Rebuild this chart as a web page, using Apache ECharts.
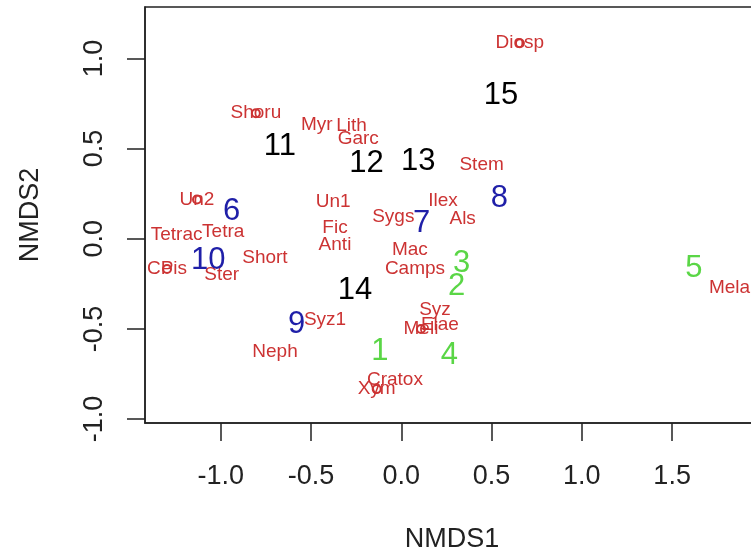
<!DOCTYPE html>
<html>
<head>
<meta charset="utf-8">
<script src="https://cdn.jsdelivr.net/npm/echarts@6/dist/echarts.min.js"></script>
<style>html,body{margin:0;padding:0;background:#fff;}#c{width:751px;height:558px;}</style>
</head>
<body>
<div id="c"></div>
<script>
// Site scores (NMDS1, NMDS2)
var siteNames = ['1','2','3','4','5','6','7','8','9','10','11','12','13','14','15'];
var siteX = [-0.118, 0.307, 0.334, 0.266, 1.621, -0.939, 0.113, 0.543, -0.579, -1.069, -0.672, -0.192, 0.094, -0.256, 0.552];
var siteY = [-0.627, -0.266, -0.136, -0.645, -0.164, 0.150, 0.085, 0.224, -0.473, -0.118, 0.510, 0.418, 0.427, -0.285, 0.797];
var siteGroup = ['g','g','g','g','g','b','b','b','b','b','k','k','k','k','k'];

// Species scores
var spNames = ['Diosp','Shoru','Myr','Lith','Garc','Stem','Un2','Un1','Ilex','Sygs','Als','Tetra','Tetrac','Fic','Anti','Mac','Short','CPis','Ster','Camps','Syz','Elae','Meli','Syz1','Neph','Cratox','Xym','Mela'];
var spX = [0.657, -0.805, -0.468, -0.275, -0.238, 0.445, -1.131, -0.377, 0.231, -0.044, 0.340, -0.986, -1.244, -0.367, -0.367, 0.048, -0.755, -1.297, -0.994, 0.076, 0.187, 0.214, 0.109, -0.422, -0.699, -0.035, -0.136, 1.818];
var spY = [1.084, 0.696, 0.631, 0.625, 0.557, 0.409, 0.217, 0.205, 0.209, 0.122, 0.113, 0.039, 0.021, 0.063, -0.035, -0.063, -0.103, -0.168, -0.201, -0.164, -0.395, -0.479, -0.501, -0.450, -0.627, -0.780, -0.834, -0.270];
// species whose point symbol is visible
var spMarked = ['Diosp','Shoru','Un2','CPis','Xym','Meli'];

var tickValues = [-1.0, -0.5, 0.0, 0.5, 1.0, 1.5];
var yTickValues = [-1.0, -0.5, 0.0, 0.5, 1.0];

var groupColor = {g: '#5ad646', b: '#1f1fa8', k: '#000000'};
var red = '#cc3333';
var font = 'Liberation Sans, Arial, Helvetica, sans-serif';

var siteData = siteNames.map(function (n, i) {
  return {value: [siteX[i], siteY[i]], name: n,
    label: {color: groupColor[siteGroup[i]]}};
});
var spData = spNames.map(function (n, i) { return {value: [spX[i], spY[i]], name: n}; });
var markData = [];
spNames.forEach(function (n, i) { if (spMarked.indexOf(n) >= 0) markData.push([spX[i], spY[i]]); });

var chart = echarts.init(document.getElementById('c'), null, {renderer: 'canvas'});
chart.setOption({
  animation: false,
  backgroundColor: '#fff',
  textStyle: {fontFamily: font},
  grid: {left: 145, top: 7, width: 614, height: 416, containLabel: false, outerBoundsMode: 'none',
    show: true, borderColor: '#222', borderWidth: 1.5, backgroundColor: 'transparent'},
  xAxis: {
    type: 'value', min: -1.419, max: 1.981,
    name: 'NMDS1', nameLocation: 'middle', nameGap: 103,
    nameTextStyle: {fontSize: 27, color: '#222', fontFamily: font},
    splitLine: {show: false},
    axisLine: {show: true, onZero: false, lineStyle: {color: '#222', width: 1.5}},
    axisTick: {show: true, inside: false, length: 18, customValues: tickValues, lineStyle: {color: '#222', width: 1.5}},
    axisLabel: {show: true, customValues: tickValues, fontSize: 27, color: '#222', margin: 40, fontFamily: font,
      formatter: function (v) { return v.toFixed(1); }}
  },
  yAxis: {
    type: 'value', min: -1.022, max: 1.285,
    name: 'NMDS2', nameLocation: 'middle', nameGap: 101, nameRotate: 90,
    nameTextStyle: {fontSize: 27, color: '#222', fontFamily: font},
    splitLine: {show: false},
    axisLine: {show: true, onZero: false, lineStyle: {color: '#222', width: 1.5}},
    axisTick: {show: true, inside: false, length: 18, customValues: yTickValues, lineStyle: {color: '#222', width: 1.5}},
    axisLabel: {show: true, customValues: yTickValues, fontSize: 27, color: '#222', margin: 37, rotate: 90, fontFamily: font,
      formatter: function (v) { return v.toFixed(1); }}
  },
  series: [
    {
      type: 'scatter', data: spData, symbolSize: 0, silent: true,
      itemStyle: {opacity: 1},
      label: {show: true, position: 'inside', opacity: 1, formatter: function (p) { return p.name; },
        fontSize: 19, color: red, fontFamily: font}
    },
    {
      type: 'scatter', data: siteData, symbolSize: 0, silent: true,
      itemStyle: {opacity: 1},
      label: {show: true, position: 'inside', opacity: 1, formatter: function (p) { return p.name; },
        fontSize: 31, fontFamily: font}
    },
    {
      type: 'scatter', data: markData, symbol: 'emptyCircle', symbolSize: 8, silent: true,
      itemStyle: {color: red, borderColor: red, borderWidth: 1.6, opacity: 1}
    }
  ]
});
</script>
</body>
</html>
